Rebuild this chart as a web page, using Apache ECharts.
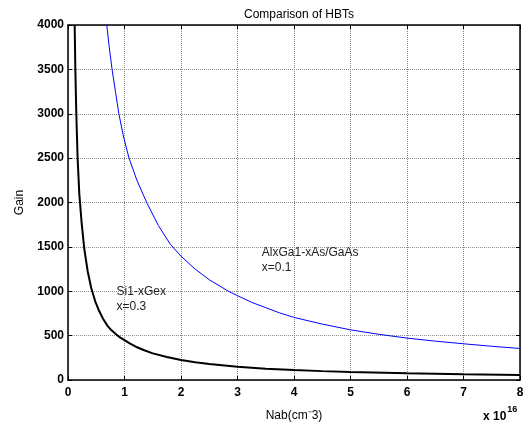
<!DOCTYPE html>
<html>
<head>
<meta charset="utf-8">
<script src="https://cdn.jsdelivr.net/npm/echarts@6/dist/echarts.min.js"></script>
<style>
  html, body { margin: 0; padding: 0; background: #fff; }
  #hbt_gain { width: 528px; height: 427px; }
</style>
</head>
<body>
<div id="hbt_gain"></div>
<script>
// values, Nab in units of 1e16 cm^-3
var siNab  = [0.118, 0.13, 0.147, 0.17, 0.2, 0.24, 0.29, 0.35, 0.41, 0.48, 0.55, 0.62, 0.7, 0.77, 0.85, 0.92, 1, 1.1, 1.2, 1.35, 1.5, 1.75, 2, 2.25, 2.5, 3, 3.5, 4, 4.5, 5, 6, 7, 8];
var siGain = [4000, 3500, 3000, 2500, 2100, 1780, 1470, 1220, 1040, 890, 780, 690, 610, 560, 515, 480, 450, 410, 375, 335, 300, 260, 225, 200, 180, 150, 128, 112, 100, 90, 75, 64, 55];

var alNab  = [0.686, 0.73, 0.78, 0.84, 0.9, 0.98, 1.08, 1.22, 1.4, 1.6, 1.81, 2, 2.25, 2.5, 2.84, 3, 3.25, 3.5, 3.75, 4, 4.5, 5, 5.5, 6, 6.5, 7, 7.5, 8];
var alGain = [4000, 3750, 3500, 3250, 3000, 2750, 2500, 2250, 1990, 1740, 1530, 1395, 1250, 1130, 1000, 950, 875, 815, 755, 705, 630, 565, 515, 472, 438, 408, 380, 355];

var xTicks = [0, 1, 2, 3, 4, 5, 6, 7, 8];
var yTicks = [0, 500, 1000, 1500, 2000, 2500, 3000, 3500, 4000];

function pairs(xs, ys) {
    return xs.map(function (x, i) { return [x, ys[i]]; });
}

var font = 'Liberation Sans, Arial, sans-serif';

var gridLine = { show: true, lineStyle: { color: '#8a8a8a', type: 'dotted', width: 1 } };
var boxLine = { show: true, onZero: false, lineStyle: { color: '#000', width: 1.5 } };
var tickIn = { show: true, inside: true, length: 4, lineStyle: { color: '#000' } };

var option = {
    animation: false,
    backgroundColor: '#fff',
    title: {
        text: 'Comparison of HBTs',
        left: 294,
        textAlign: 'center',
        top: 4,
        textStyle: { fontFamily: font, fontSize: 12, fontWeight: 'normal', color: '#000' }
    },
    grid: { left: 68, right: 8, top: 25, bottom: 47 },
    xAxis: [
        {
            type: 'value', min: xTicks[0], max: xTicks[xTicks.length - 1], interval: 1,
            position: 'bottom',
            name: 'Nab(cm\u207B3)', nameLocation: 'middle', nameGap: 30,
            nameTextStyle: { fontFamily: font, fontSize: 12, color: '#000' },
            axisLine: boxLine, axisTick: tickIn, splitLine: gridLine,
            axisLabel: { fontFamily: font, fontSize: 12, fontWeight: 'bold', color: '#000', margin: 7 }
        },
        {
            type: 'value', min: xTicks[0], max: xTicks[xTicks.length - 1], interval: 1,
            position: 'top',
            axisLine: boxLine, axisTick: tickIn, splitLine: { show: false },
            axisLabel: { show: false }
        }
    ],
    yAxis: [
        {
            type: 'value', min: yTicks[0], max: yTicks[yTicks.length - 1], interval: 500,
            position: 'left',
            name: 'Gain', nameLocation: 'middle', nameGap: 42,
            nameTextStyle: { fontFamily: font, fontSize: 12, color: '#000' },
            axisLine: boxLine, axisTick: tickIn, splitLine: gridLine,
            axisLabel: {
                fontFamily: font, fontSize: 12, fontWeight: 'bold', color: '#000', margin: 4,
                formatter: function (v) { return String(v); }
            }
        },
        {
            type: 'value', min: yTicks[0], max: yTicks[yTicks.length - 1], interval: 500,
            position: 'right',
            axisLine: boxLine, axisTick: tickIn, splitLine: { show: false },
            axisLabel: { show: false }
        }
    ],
    series: [
        {
            name: 'Si1-xGex',
            type: 'line',
            data: pairs(siNab, siGain),
            showSymbol: false,
            clip: true,
            lineStyle: { color: '#000', width: 2 }
        },
        {
            name: 'AlxGa1-xAs/GaAs',
            type: 'line',
            data: pairs(alNab, alGain),
            showSymbol: false,
            clip: true,
            lineStyle: { color: '#0000ff', width: 1 }
        }
    ]
};

var chart = echarts.init(document.getElementById('hbt_gain'));
chart.setOption(option);

// text notes placed in data space
var notes = [
    { at: [0.86, 1082], text: 'Si1-xGex\nx=0.3' },
    { at: [3.43, 1521], text: 'AlxGa1-xAs/GaAs\nx=0.1' }
];
var graphics = notes.map(function (n) {
    var p = chart.convertToPixel({ gridIndex: 0 }, n.at);
    return {
        type: 'text', left: p[0], top: p[1],
        style: { text: n.text, fontFamily: font, fontSize: 12, lineHeight: 15, fill: '#222' }
    };
});
graphics.push({
    type: 'text', left: 483, top: 405,
    style: {
        text: '{b|x 10}{s|16}',
        rich: {
            b: { fontFamily: font, fontSize: 12, fontWeight: 'bold', fill: '#000', padding: [8, 0, 0, 0] },
            s: { fontFamily: font, fontSize: 9, fontWeight: 'bold', fill: '#000', padding: [0, 0, 6, 1] }
        }
    }
});
chart.setOption({ graphic: graphics });

window.addEventListener('resize', function () {
    chart.resize();
});
</script>
</body>
</html>
